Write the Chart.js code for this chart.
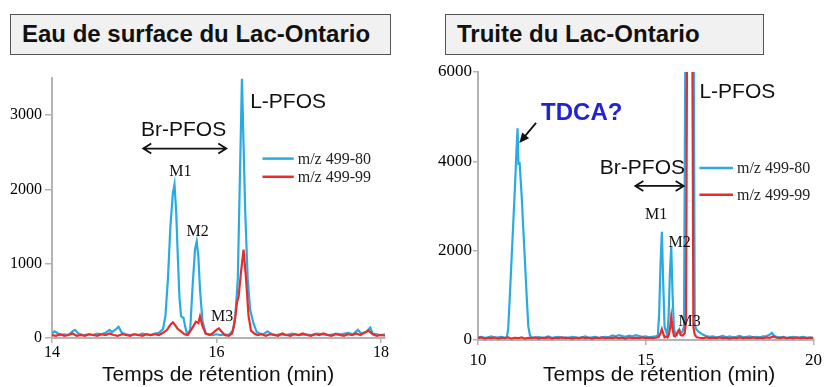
<!DOCTYPE html>
<html>
<head>
<meta charset="utf-8">
<script src="https://cdn.jsdelivr.net/npm/chart.js@4.4.0/dist/chart.umd.min.js"></script>
<style>
  body { margin: 0; width: 827px; height: 387px; background: #fff; position: relative; overflow: hidden; font-family: 'Liberation Sans', Arial, sans-serif; }
  .panel { position: absolute; top: 0; height: 387px; }
  .box { position: absolute; top: 14px; height: 41px; box-sizing: border-box; background: #f1f1f1; border: 1.5px solid #555;
         font-weight: bold; font-size: 24px; line-height: 38px; color: #111; padding-left: 11px; white-space: nowrap; }
</style>
</head>
<body>
<div class="panel" style="left:0;width:413px"><canvas id="leftChart" width="413" height="387"></canvas></div>
<div class="panel" style="left:413px;width:414px"><canvas id="rightChart" width="414" height="387"></canvas></div>
<div class="box" style="left:10px;width:381px">Eau de surface du Lac-Ontario</div>
<div class="box" style="left:445px;width:319px">Truite du Lac-Ontario</div>

<script>
// chromatogram traces: [retention time (min), intensity]
const waterBlue = [
  [14.00,60],[14.03,90],[14.06,70],[14.10,40],[14.15,50],[14.20,40],[14.25,90],[14.28,110],[14.32,60],[14.38,40],
  [14.45,50],[14.50,40],[14.55,60],[14.60,50],[14.65,70],[14.70,110],[14.73,80],[14.78,120],[14.81,150],[14.85,70],
  [14.90,50],[14.95,40],[15.00,50],[15.05,40],[15.10,60],[15.15,50],[15.20,40],[15.25,60],[15.30,70],[15.35,120],
  [15.38,300],[15.41,800],[15.44,1500],[15.47,1950],[15.49,2070],[15.51,1700],[15.53,1100],[15.55,550],[15.57,290],[15.60,270],
  [15.62,150],[15.64,60],[15.68,100],[15.71,700],[15.74,1200],[15.76,1300],[15.78,1100],[15.80,650],[15.83,230],[15.87,60],
  [15.91,50],[15.95,40],[16.00,50],[16.05,40],[16.10,50],[16.15,40],[16.20,100],[16.23,300],[16.26,800],[16.31,3490],
  [16.35,1700],[16.38,800],[16.41,380],[16.45,200],[16.49,80],[16.53,60],[16.57,50],[16.62,90],[16.66,60],[16.72,40],
  [16.78,50],[16.85,40],[16.92,60],[17.00,40],[17.08,50],[17.15,40],[17.22,60],[17.30,50],[17.38,40],[17.45,60],
  [17.52,50],[17.60,70],[17.66,50],[17.72,110],[17.76,60],[17.82,80],[17.87,140],[17.90,60],[17.95,50],[18.00,40],[18.05,50]
];
const waterRed = [
  [14.00,40],[14.05,30],[14.10,50],[14.15,30],[14.20,40],[14.25,60],[14.30,30],[14.35,40],[14.40,30],[14.45,50],
  [14.50,40],[14.55,30],[14.60,50],[14.65,40],[14.70,60],[14.75,40],[14.80,30],[14.85,50],[14.90,40],[14.95,30],
  [15.00,50],[15.05,40],[15.10,30],[15.15,50],[15.20,40],[15.25,50],[15.30,40],[15.35,70],[15.40,110],[15.44,180],
  [15.47,210],[15.50,170],[15.53,120],[15.57,90],[15.61,50],[15.65,40],[15.68,90],[15.72,160],[15.75,220],[15.78,200],
  [15.80,290],[15.83,160],[15.87,60],[15.92,40],[15.97,80],[16.00,110],[16.03,130],[16.06,90],[16.10,40],[16.15,30],
  [16.19,60],[16.22,200],[16.25,480],[16.27,560],[16.30,900],[16.33,1190],[16.36,800],[16.39,300],[16.42,100],[16.46,60],
  [16.50,40],[16.55,50],[16.60,30],[16.65,50],[16.70,40],[16.75,30],[16.80,60],[16.85,40],[16.90,30],[16.95,50],
  [17.00,40],[17.05,60],[17.10,40],[17.15,30],[17.20,50],[17.25,40],[17.30,60],[17.35,40],[17.40,30],[17.45,50],
  [17.50,40],[17.55,30],[17.60,50],[17.65,40],[17.70,60],[17.75,40],[17.80,70],[17.85,100],[17.90,50],[17.95,30],[18.00,40],[18.05,30]
];
const troutBlue = [
  [10.00,60],[10.10,70],[10.20,50],[10.30,60],[10.40,80],[10.50,50],[10.60,60],[10.70,70],[10.80,50],[10.86,70],
  [10.90,250],[10.95,1000],[11.00,1800],[11.05,2600],[11.10,3400],[11.15,4300],[11.18,4740],[11.205,3950],[11.24,3960],[11.30,3250],
  [11.35,2500],[11.40,1750],[11.45,1000],[11.50,300],[11.55,100],[11.60,60],[11.70,50],[11.80,70],[11.90,50],[12.00,60],
  [12.10,80],[12.20,50],[12.30,60],[12.40,70],[12.50,50],[12.60,60],[12.70,50],[12.80,70],[12.90,60],[13.00,50],
  [13.10,60],[13.20,80],[13.30,50],[13.40,60],[13.50,70],[13.60,50],[13.70,60],[13.80,70],[13.90,60],[14.00,100],
  [14.10,80],[14.20,110],[14.30,90],[14.40,70],[14.50,100],[14.60,80],[14.70,110],[14.80,90],[14.90,70],[15.00,80],
  [15.10,60],[15.20,70],[15.30,80],[15.36,100],[15.40,600],[15.44,1700],[15.48,2425],[15.52,1300],[15.56,300],[15.60,200],
  [15.64,120],[15.68,500],[15.72,1500],[15.76,2090],[15.80,1000],[15.84,250],[15.88,140],[15.93,110],[15.97,180],[16.00,230],
  [16.04,150],[16.09,180],[16.14,300],[16.18,6500],[16.30,40000],[16.43,6500],[16.46,350],[16.50,250],[16.55,200],[16.60,170],
  [16.70,120],[16.80,90],[16.90,70],[17.00,80],[17.10,60],[17.20,70],[17.30,90],[17.40,60],[17.50,80],[17.60,60],
  [17.70,70],[17.80,90],[17.90,60],[18.00,70],[18.10,80],[18.20,60],[18.30,70],[18.40,60],[18.50,80],[18.60,90],
  [18.70,120],[18.76,160],[18.82,100],[18.90,70],[19.00,60],[19.10,70],[19.20,50],[19.30,60],[19.40,70],[19.50,50],
  [19.60,60],[19.70,70],[19.80,50],[19.90,60],[20.00,50]
];
const troutRed = [
  [10.00,40],[10.10,60],[10.20,30],[10.30,50],[10.40,40],[10.50,60],[10.60,30],[10.70,50],[10.80,40],[10.90,60],
  [11.00,30],[11.10,50],[11.20,40],[11.30,60],[11.40,30],[11.50,50],[11.60,40],[11.70,60],[11.80,30],[11.90,50],
  [12.00,40],[12.10,60],[12.20,30],[12.30,50],[12.40,40],[12.50,60],[12.60,40],[12.70,50],[12.80,30],[12.90,50],
  [13.00,40],[13.10,60],[13.20,40],[13.30,50],[13.40,30],[13.50,50],[13.60,40],[13.70,60],[13.80,40],[13.90,50],
  [14.00,40],[14.10,60],[14.20,40],[14.30,50],[14.40,30],[14.50,60],[14.60,40],[14.70,50],[14.80,40],[14.90,60],
  [15.00,40],[15.10,50],[15.20,40],[15.30,50],[15.38,60],[15.44,150],[15.48,245],[15.52,150],[15.56,60],[15.60,80],
  [15.65,60],[15.69,120],[15.73,300],[15.76,520],[15.80,250],[15.84,90],[15.88,80],[15.93,150],[15.97,210],[16.00,225],
  [16.04,110],[16.10,100],[16.16,150],[16.20,400],[16.23,6500],[16.31,30000],[16.39,6500],[16.42,300],[16.46,120],[16.52,60],
  [16.60,50],[16.70,40],[16.80,60],[16.90,40],[17.00,50],[17.10,40],[17.20,60],[17.30,40],[17.40,50],[17.50,30],
  [17.60,50],[17.70,40],[17.80,60],[17.90,40],[18.00,50],[18.10,40],[18.20,60],[18.30,40],[18.40,50],[18.50,40],
  [18.60,60],[18.70,50],[18.80,80],[18.90,50],[19.00,40],[19.10,60],[19.20,40],[19.30,50],[19.40,40],[19.50,60],
  [19.60,40],[19.70,50],[19.80,40],[19.90,50],[20.00,40]
];
const seriesLabels = ['m/z 499-80', 'm/z 499-99'];
const seriesColors = ['#29abe2', '#ec2a2a'];

// axis ticks
const waterTimeTicks = [14, 16, 18];
const waterIntensityTicks = [0, 1000, 2000, 3000];
const troutTimeTicks = [10, 15, 20];
const troutIntensityTicks = [0, 2000, 4000, 6000];

const SANS = "'Liberation Sans', Arial, sans-serif";
const SERIF = "'Liberation Serif', 'Times New Roman', serif";

// tick labels are set in a Times-like face
Chart.defaults.font.family = SERIF;
Chart.defaults.color = '#000';

// draws the labels, arrows and legend on top of the traces
const notesPlugin = {
  id: 'notes',
  afterDatasetsDraw(chart, args, opts) {
    const { ctx, scales: { x, y }, chartArea } = chart;
    ctx.save();
    for (const n of opts.items) {
      const px = x.getPixelForValue(n.x);
      const py = n.dy !== undefined ? chartArea.bottom + n.dy : y.getPixelForValue(n.y);
      if (n.type === 'text' || n.type === 'xtitle') {
        ctx.font = n.font;
        ctx.fillStyle = n.color || '#111';
        ctx.textAlign = n.align || 'center';
        ctx.textBaseline = 'middle';
        ctx.fillText(n.text, px, py);
      } else if (n.type === 'double') {
        const px2 = x.getPixelForValue(n.x2);
        ctx.strokeStyle = '#111';
        ctx.lineWidth = 1.8;
        ctx.beginPath();
        ctx.moveTo(px, py); ctx.lineTo(px2, py);
        ctx.moveTo(px + 8, py - 5); ctx.lineTo(px, py); ctx.lineTo(px + 8, py + 5);
        ctx.moveTo(px2 - 8, py - 5); ctx.lineTo(px2, py); ctx.lineTo(px2 - 8, py + 5);
        ctx.stroke();
      } else if (n.type === 'arrow') {
        const hx = x.getPixelForValue(n.x2), hy = y.getPixelForValue(n.y2);
        const a = Math.atan2(hy - py, hx - px);
        ctx.strokeStyle = '#111';
        ctx.fillStyle = '#111';
        ctx.lineWidth = 1.8;
        ctx.beginPath();
        ctx.moveTo(px, py); ctx.lineTo(hx - 6 * Math.cos(a), hy - 6 * Math.sin(a));
        ctx.stroke();
        ctx.beginPath();
        ctx.moveTo(hx, hy);
        ctx.lineTo(hx - 10 * Math.cos(a) + 4.5 * Math.sin(a), hy - 10 * Math.sin(a) - 4.5 * Math.cos(a));
        ctx.lineTo(hx - 10 * Math.cos(a) - 4.5 * Math.sin(a), hy - 10 * Math.sin(a) + 4.5 * Math.cos(a));
        ctx.closePath();
        ctx.fill();
      } else if (n.type === 'legend') {
        const px2 = x.getPixelForValue(n.x2);
        chart.data.datasets.forEach((ds, i) => {
          const ly = y.getPixelForValue(n.rows[i]);
          ctx.strokeStyle = ds.borderColor;
          ctx.lineWidth = 2.5;
          ctx.beginPath();
          ctx.moveTo(px, ly); ctx.lineTo(px2, ly);
          ctx.stroke();
          ctx.font = n.font;
          ctx.fillStyle = '#222';
          ctx.textAlign = 'left';
          ctx.textBaseline = 'middle';
          ctx.fillText(ds.label, px2 + 4, ly + 1);
        });
      }
    }
    ctx.restore();
  }
};

function toPoints(pairs) {
  return pairs.map(([t, v]) => ({ x: t, y: v }));
}

function makeChart(id, blue, red, xr, yr, layout, items) {
  return new Chart(document.getElementById(id), {
    type: 'line',
    data: {
      datasets: [
        { label: seriesLabels[0], data: toPoints(blue), borderColor: seriesColors[0], order: 1 },
        { label: seriesLabels[1], data: toPoints(red), borderColor: seriesColors[1], order: 0 }
      ]
    },
    options: {
      responsive: false,
      animation: false,
      events: [],
      layout: { padding: { top: layout.top, right: layout.right, left: 0, bottom: 0 } },
      elements: { point: { radius: 0 }, line: { borderWidth: 2.2, tension: 0 } },
      plugins: { legend: { display: false }, tooltip: { enabled: false }, notes: { items } },
      scales: {
        x: {
          type: 'linear', min: xr.min, max: xr.max,
          afterBuildTicks: (s) => { s.ticks = xr.ticks.map((v) => ({ value: v })); },
          afterFit: (s) => { s.height = layout.xh; },
          border: { color: '#b3b3b3', width: 2 },
          grid: { drawOnChartArea: false, color: '#b3b3b3', tickLength: 5, lineWidth: 1.5 },
          ticks: { padding: layout.xpad, color: '#000', callback: (v) => String(v),
                   font: { size: layout.tick } }
        },
        y: {
          type: 'linear', min: 0, max: yr.max,
          afterBuildTicks: (s) => { s.ticks = yr.ticks.map((v) => ({ value: v })); },
          afterFit: (s) => { s.width = layout.yw; },
          border: { color: '#b3b3b3', width: 2 },
          grid: { drawOnChartArea: false, color: '#b3b3b3', tickLength: layout.ytl, lineWidth: 1.5 },
          ticks: { padding: layout.ypad, color: '#000', callback: (v) => String(v),
                   font: { size: layout.tick } }
        }
      }
    },
    plugins: [notesPlugin]
  });
}

const LABEL = '21px ' + SANS;
const MARK = '16px ' + SERIF;

makeChart('leftChart', waterBlue, waterRed,
  { min: 14, max: 18.05, ticks: waterTimeTicks }, { max: 3500, ticks: waterIntensityTicks },
  { top: 78, right: 28, xh: 49, yw: 52, xpad: 0, ytl: 7, ypad: 3, tick: 16 },
  [
    { type: 'text', text: 'Br-PFOS', x: 15.60, y: 2800, font: LABEL },
    { type: 'double', x: 15.11, x2: 16.12, y: 2550 },
    { type: 'text', text: 'L-PFOS', x: 16.41, y: 3170, font: LABEL, align: 'left' },
    { type: 'text', text: 'M1', x: 15.56, y: 2240, font: MARK },
    { type: 'text', text: 'M2', x: 15.77, y: 1425, font: MARK },
    { type: 'text', text: 'M3', x: 16.07, y: 290, font: MARK },
    { type: 'legend', x: 16.56, x2: 16.94, rows: [2415, 2170], font: '16px ' + SERIF },
    { type: 'xtitle', text: 'Temps de rétention (min)', x: 16.02, dy: 37, font: LABEL }
  ]);

makeChart('rightChart', troutBlue, troutRed,
  { min: 10, max: 20, ticks: troutTimeTicks }, { max: 6000, ticks: troutIntensityTicks },
  { top: 72, right: 8, xh: 47, yw: 65, xpad: 5, ytl: 5, ypad: 1, tick: 17 },
  [
    { type: 'text', text: 'TDCA?', x: 11.88, y: 5080, font: 'bold 24px ' + SANS, color: '#2323d6', align: 'left' },
    { type: 'arrow', x: 11.73, y: 4860, x2: 11.23, y2: 4410 },
    { type: 'text', text: 'L-PFOS', x: 16.60, y: 5550, font: LABEL, align: 'left' },
    { type: 'text', text: 'Br-PFOS', x: 14.90, y: 3850, font: LABEL },
    { type: 'double', x: 14.69, x2: 16.13, y: 3450 },
    { type: 'text', text: 'M1', x: 15.31, y: 2800, font: MARK },
    { type: 'text', text: 'M2', x: 16.01, y: 2180, font: MARK },
    { type: 'text', text: 'M3', x: 16.31, y: 410, font: MARK },
    { type: 'legend', x: 16.60, x2: 17.60, rows: [3850, 3250], font: '16px ' + SERIF },
    { type: 'xtitle', text: 'Temps de rétention (min)', x: 15.40, dy: 35, font: LABEL }
  ]);
</script>
</body>
</html>
